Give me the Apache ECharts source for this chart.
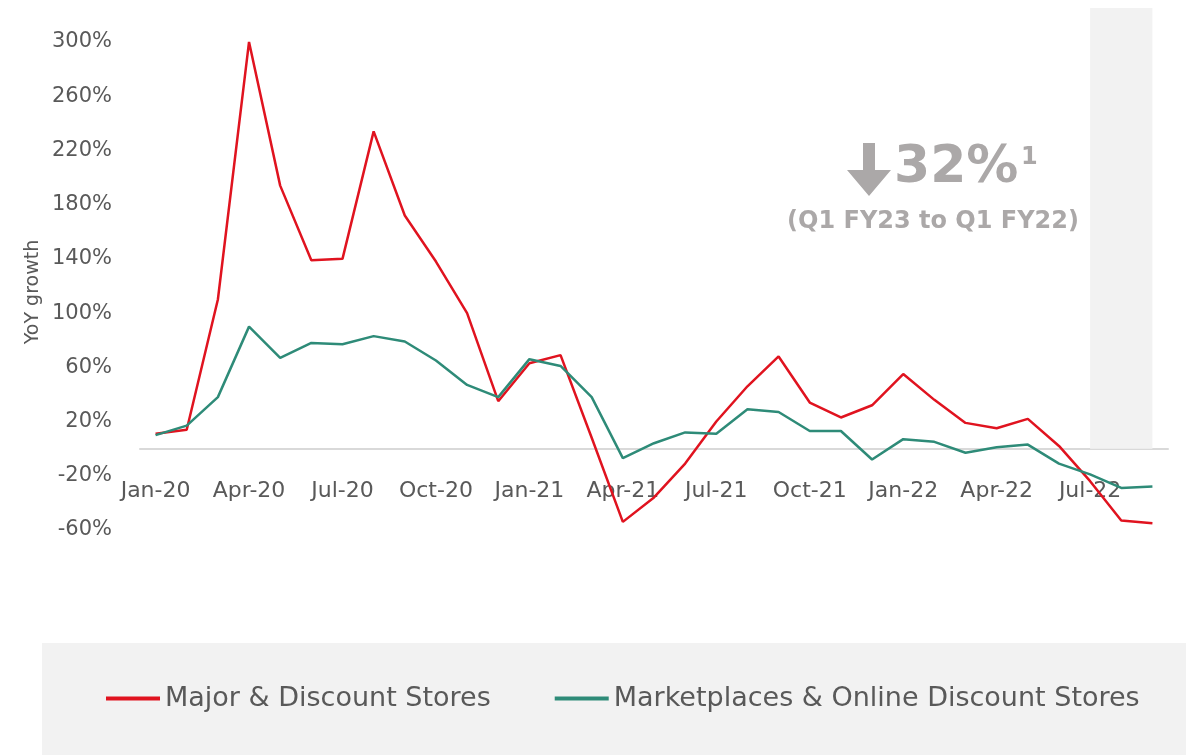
<!DOCTYPE html>
<html>
<head>
<meta charset="utf-8">
<title>YoY growth</title>
<script src="https://cdn.jsdelivr.net/npm/echarts@6/dist/echarts.min.js"></script>
<style>
  html, body { margin: 0; padding: 0; background: #fff; }
  #chart { width: 1186px; height: 755px; }
</style>
</head>
<body>
<div id="chart"></div>
<script>
// 月份（横轴类目）
const months = [
  'Jan-20', 'Feb-20', 'Mar-20', 'Apr-20', 'May-20', 'Jun-20', 'Jul-20', 'Aug-20', 'Sep-20', 'Oct-20', 'Nov-20', 'Dec-20',
  'Jan-21', 'Feb-21', 'Mar-21', 'Apr-21', 'May-21', 'Jun-21', 'Jul-21', 'Aug-21', 'Sep-21', 'Oct-21', 'Nov-21', 'Dec-21',
  'Jan-22', 'Feb-22', 'Mar-22', 'Apr-22', 'May-22', 'Jun-22', 'Jul-22', 'Aug-22', 'Sep-22'
]
// 两条线的同比增长（%）
const majorStores = [
  11, 14, 110, 300, 194, 139, 140, 234, 172, 138, 100, 35,
  63, 69, 8, -54, -36, -11, 20, 46, 68, 34, 23, 32,
  55, 36, 19, 15, 22, 2, -24, -53, -55
]
const marketplaces = [
  10, 17, 38, 90, 67, 78, 77, 83, 79, 65, 47, 38,
  66, 61, 38, -7, 4, 12, 11, 29, 27, 13, 13, -8,
  7, 5, -3, 1, 3, -11, -19, -29, -28
]
const seriesNames = ['Major & Discount Stores', 'Marketplaces & Online Discount Stores']
// 灰色阴影区间（Q1 FY23）
const shadeRange = ['Jul-22', 'Sep-22']
const yMin = -60
const yMax = 325

const fontFamily = '"DejaVu Sans", sans-serif'
const textColor = '#595959'
const noteColor = '#ABA8A8'

const chartInstance = echarts.init(document.getElementById('chart'))
const option = {
  animation: false,
  grid: { left: 140, right: 18, top: 8, bottom: 225 },
  xAxis: {
    type: 'category',
    data: months,
    boundaryGap: true,
    // 横轴放在 0 的位置（标签跟着一起上移）
    axisLine: { onZero: false, lineStyle: { color: '#D9D9D9', width: 2 } },
    offset: -81.4,
    axisTick: { show: false },
    axisLabel: {
      interval: 2,
      margin: 32,
      color: textColor,
      fontSize: 22,
      fontFamily: fontFamily
    },
    splitLine: { show: false }
  },
  yAxis: {
    type: 'value',
    min: yMin,
    max: yMax,
    interval: 20,
    axisLine: { show: false },
    axisTick: { show: false },
    splitLine: { show: false },
    axisLabel: {
      margin: 28,
      color: textColor,
      fontSize: 21,
      fontFamily: fontFamily,
      // 只显示 -60%, -20%, 20% ... 300%
      formatter: function (v) {
        if (v > 300 || (v - yMin) % 40 !== 0) return ''
        return v + '%'
      }
    }
  },
  legend: {
    data: seriesNames,
    left: 106,
    top: 685,
    padding: 0,
    icon: 'rect',
    itemWidth: 54,
    itemHeight: 4,
    itemGap: 64,
    textStyle: { color: textColor, fontSize: 27, fontFamily: fontFamily }
  },
  graphic: [
    // 图例背景
    { type: 'rect', left: 42, top: 643, shape: { width: 1144, height: 112 }, style: { fill: '#F2F2F2' }, z: -10 },
    // 纵轴标题
    {
      type: 'text',
      x: 33,
      y: 292,
      rotation: Math.PI / 2,
      style: { text: 'YoY growth', fill: textColor, font: '19px ' + fontFamily, align: 'center', verticalAlign: 'middle' }
    },
    // 下降箭头
    {
      type: 'polygon',
      shape: { points: [[863, 143], [875, 143], [875, 170], [891, 170], [869, 196], [847, 170], [863, 170]] },
      style: { fill: noteColor }
    },
    {
      type: 'text',
      x: 894,
      y: 168,
      style: { text: '32%', fill: noteColor, font: 'bold 52px ' + fontFamily, align: 'left', verticalAlign: 'middle' }
    },
    {
      type: 'text',
      x: 1021,
      y: 158,
      style: { text: '1', fill: noteColor, font: 'bold 24px ' + fontFamily, align: 'left', verticalAlign: 'middle' }
    },
    {
      type: 'text',
      x: 933,
      y: 222,
      style: { text: '(Q1 FY23 to Q1 FY22)', fill: noteColor, font: 'bold 24px ' + fontFamily, align: 'center', verticalAlign: 'middle' }
    }
  ],
  series: [
    {
      // 只负责画阴影区
      type: 'line',
      data: [],
      z: 1,
      silent: true,
      markArea: {
        silent: true,
        itemStyle: { color: '#F2F2F2' },
        data: [[{ xAxis: shadeRange[0], yAxis: 0 }, { xAxis: shadeRange[1], yAxis: yMax }]]
      }
    },
    {
      name: seriesNames[0],
      type: 'line',
      data: majorStores,
      z: 3,
      symbol: 'none',
      lineStyle: { color: '#E0131F', width: 2.5 },
      itemStyle: { color: '#E0131F' }
    },
    {
      name: seriesNames[1],
      type: 'line',
      data: marketplaces,
      z: 3,
      symbol: 'none',
      lineStyle: { color: '#2E8B78', width: 2.5 },
      itemStyle: { color: '#2E8B78' }
    }
  ]
}
chartInstance.setOption(option)
</script>
</body>
</html>
